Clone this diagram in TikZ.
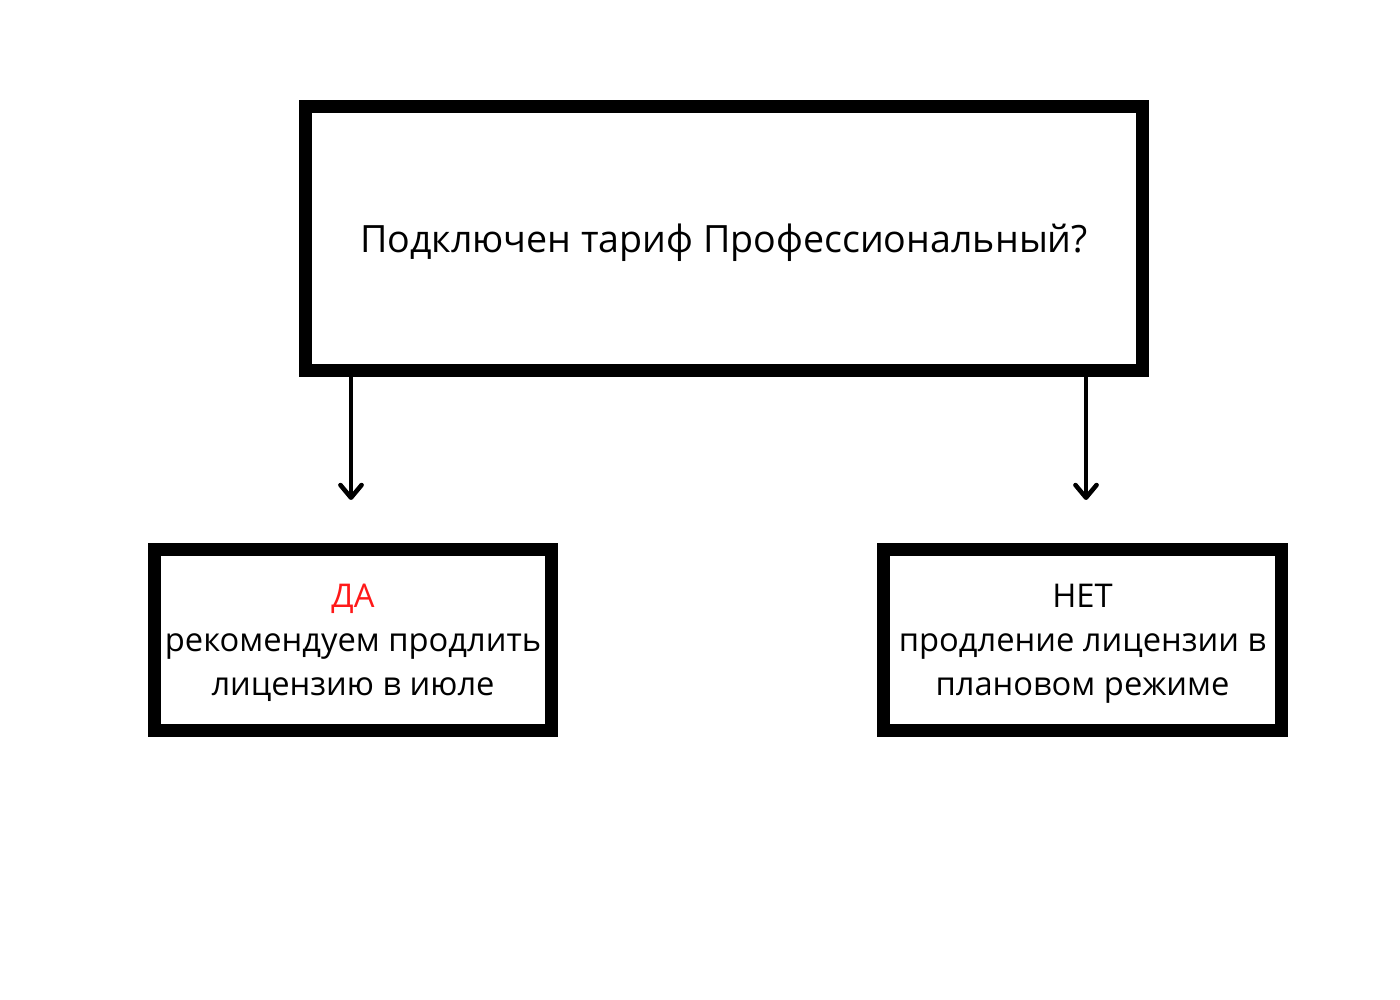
\documentclass[tikz,border=0pt]{standalone}
\usepackage{fontspec}
\setmainfont{Open Sans}
\usetikzlibrary{arrows.meta}
\definecolor{yesred}{RGB}{255,25,25}

\begin{document}
\begin{tikzpicture}[
		box/.style={draw, line width=3.7pt, inner sep=0pt, align=center, text depth=0pt},
		arr/.style={line width=1.3pt, -{Straight Barb[length=3.6pt, width=6pt, line cap=round, line join=round]}}
	]
			\useasboundingbox (0,0) rectangle (14,10);
			
			\node[box, minimum width=8.37cm, minimum height=2.64cm, font=\fontsize{10.7}{12.6}\selectfont] (question) at (7.24,7.615) {Подключен тариф Профессиональный?};
			\node[box, minimum width=3.97cm, minimum height=1.81cm, font=\fontsize{9.3}{12.5}\selectfont] (yes) at (3.53,3.6) {\textcolor{yesred}{ДА}\\рекомендуем продлить\\лицензию в июле};
			\node[box, minimum width=3.98cm, minimum height=1.81cm, font=\fontsize{9.3}{12.5}\selectfont] (no) at (10.825,3.6) {НЕТ\\продление лицензии в\\плановом режиме};
			
			\coordinate (yesend) at (3.51,5.0);
			\coordinate (noend) at (10.86,5.0);
			\draw[arr] (question.south -| yesend) -- (yesend);
			\draw[arr] (question.south -| noend) -- (noend);
		\end{tikzpicture}
\end{document}
